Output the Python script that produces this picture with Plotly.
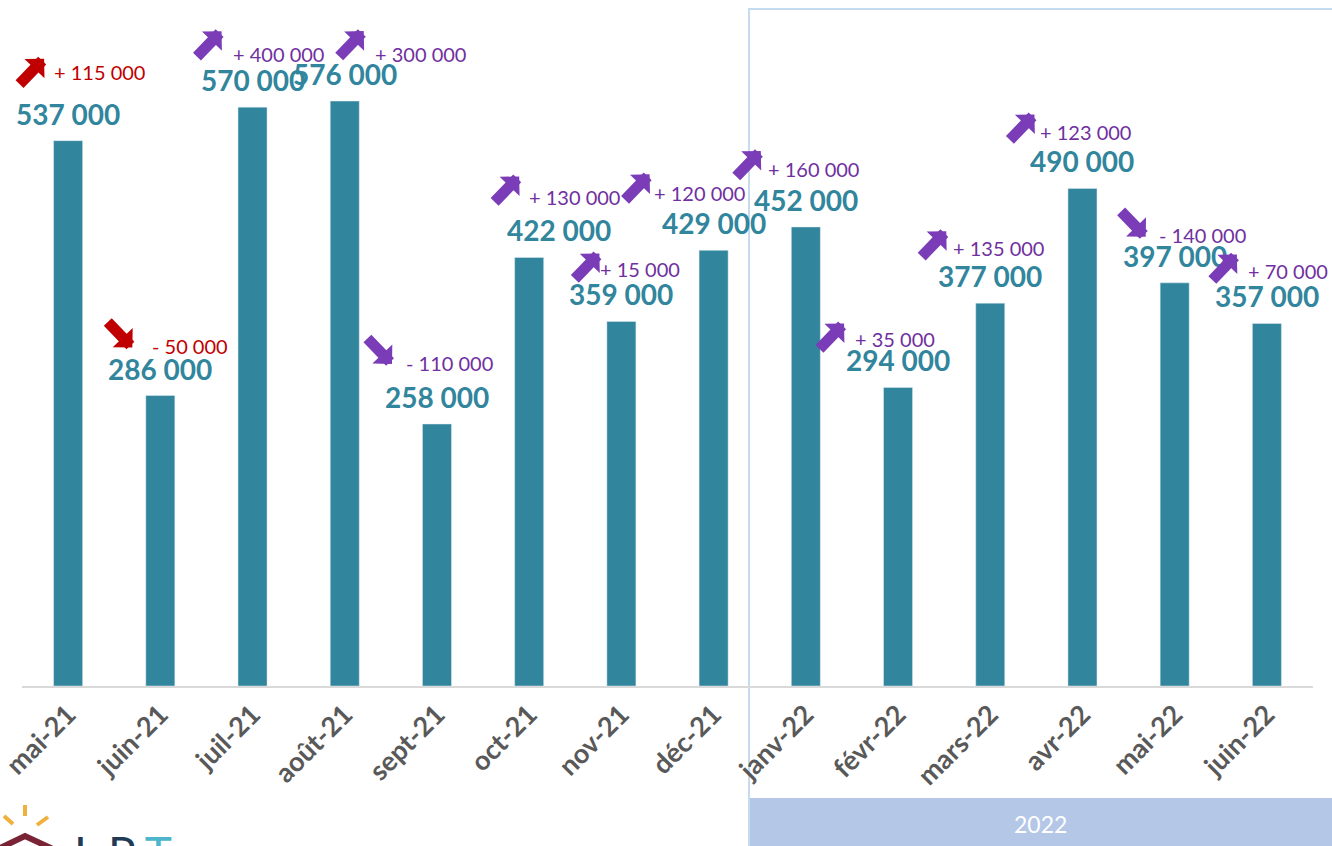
import plotly.graph_objects as go

# ---- data ----
months = ["mai-21", "juin-21", "juil-21", "août-21", "sept-21", "oct-21", "nov-21",
          "déc-21", "janv-22", "févr-22", "mars-22", "avr-22", "mai-22", "juin-22"]
values = [537000, 286000, 570000, 576000, 258000, 422000, 359000,
          429000, 452000, 294000, 377000, 490000, 397000, 357000]
changes = [115000, -50000, 400000, 300000, -110000, 130000, 15000,
           120000, 160000, 35000, 135000, 123000, -140000, 70000]
year_band_label = "2022"

# ---- styling / placement (pixels) ----
BAR = "#31859C"
RED = "#C00000"
PURPLE_TXT = "#7030A0"
PURPLE_ARR = "#7B3CB8"
change_colors = [RED, RED] + [None] * 12
value_dx = [0, 0, 0, 0, 0, 30, 0, 0, 0, 0, 0, 0, 0, 0]
# change-text left edge offset (x) and height above bar top (y)
chg_dx = [-16, -10, -22, 28, -33, -2, -23, -62, -40, -45, -39, -44, -18, -21]
chg_dy = [69, 50, 53, 47, 61, 60, 52, 57, 58, 48, 55, 56, 48, 52]
# arrow head offset from bar centre (x) and above bar top (y)
arr_dx = [-24, -28, -31, 19, -45, -10, -22, -64, -45, -54, -44, -48, -29, -30]
arr_dy = [82, 48, 76, 70, 60, 81, 68, 76, 76, 64, 72, 74, 46, 69]


def fmt(v):
    return f"{abs(v):,}".replace(",", " ")


fig = go.Figure()
fig.add_trace(go.Bar(x=months, y=values, width=0.315, marker_color=BAR,
                     hoverinfo="x+y"))

ann = []
for i, (m, v, c) in enumerate(zip(months, values, changes)):
    ann.append(dict(x=m, y=v, text=f"<b>{fmt(v)}</b>", showarrow=False,
                    xanchor="center", yanchor="middle", xshift=value_dx[i], yshift=27,
                    font=dict(family="Lato", size=28, color=BAR)))
    col = change_colors[i] or PURPLE_TXT
    acol = change_colors[i] or PURPLE_ARR
    sign = "+" if c > 0 else "-"
    ann.append(dict(x=m, y=v, text=f"{sign} {fmt(c)}", showarrow=False,
                    xanchor="left", yanchor="middle", xshift=chg_dx[i], yshift=chg_dy[i],
                    font=dict(family="Lato", size=20, color=col)))
    ay = 27 if c > 0 else -27
    ann.append(dict(x=m, y=v, text="", showarrow=True, xshift=arr_dx[i], yshift=arr_dy[i],
                    ax=-26, ay=ay, arrowhead=1, arrowsize=0.42, arrowwidth=11,
                    arrowcolor=acol, standoff=0))


# pixel -> paper helpers for decorations
def px_x(px):
    return (px - 22) / 1291


def px_y(py):
    return (686 - py) / 686


ann.append(dict(xref="paper", yref="paper", x=px_x(1040), y=px_y(824), text=year_band_label,
                showarrow=False, font=dict(family="Lato", size=23, color="white"),
                xanchor="center", yanchor="middle"))

# partial logo at the bottom-left
ann.append(dict(xref="paper", yref="paper", x=px_x(72), y=px_y(823), xanchor="left",
                yanchor="top", showarrow=False,
                text="L P <span style='color:#4DB6CC'>T</span>",
                font=dict(family="Lato", size=46, color="#1F3B57")))

shapes = [
    dict(type="rect", xref="paper", yref="paper", x0=px_x(749), x1=px_x(1340),
         y0=px_y(846), y1=px_y(9), line=dict(color="#C5DBF0", width=2),
         fillcolor="rgba(0,0,0,0)", layer="below"),
    dict(type="rect", xref="paper", yref="paper", x0=px_x(750), x1=px_x(1340),
         y0=px_y(850), y1=px_y(798), line=dict(width=0),
         fillcolor="#B4C7E7", layer="below"),
    # logo sun rays
    dict(type="line", xref="paper", yref="paper", x0=px_x(25), x1=px_x(25),
         y0=px_y(805), y1=px_y(816), line=dict(color="#EFB03C", width=4)),
    dict(type="line", xref="paper", yref="paper", x0=px_x(4), x1=px_x(13),
         y0=px_y(816), y1=px_y(824), line=dict(color="#EFB03C", width=4)),
    dict(type="line", xref="paper", yref="paper", x0=px_x(37), x1=px_x(48),
         y0=px_y(825), y1=px_y(817), line=dict(color="#EFB03C", width=4)),
    # logo roof
    dict(type="path", xref="paper", yref="paper",
         path=f"M {px_x(0)},{px_y(848)} L {px_x(25)},{px_y(836)} L {px_x(55)},{px_y(850)}",
         line=dict(color="#7A2335", width=6)),
]

fig.update_layout(
    width=1332, height=846,
    margin=dict(l=22, r=19, t=0, b=160),
    plot_bgcolor="white", paper_bgcolor="white",
    showlegend=False,
    annotations=ann, shapes=shapes,
    xaxis=dict(showline=True, linecolor="#D9D9D9", linewidth=2, showgrid=False,
               range=[-0.5, len(months) - 0.5],
               tickangle=-45, ticks="",
               tickfont=dict(family="Lato", size=27, color="#595959", weight="bold")),
    yaxis=dict(range=[0, 675500], visible=False, showgrid=False),
)

fig.write_html("out.html", config={"displayModeBar": False},
               post_script="document.body.style.margin='0';document.body.style.overflow='hidden';")
